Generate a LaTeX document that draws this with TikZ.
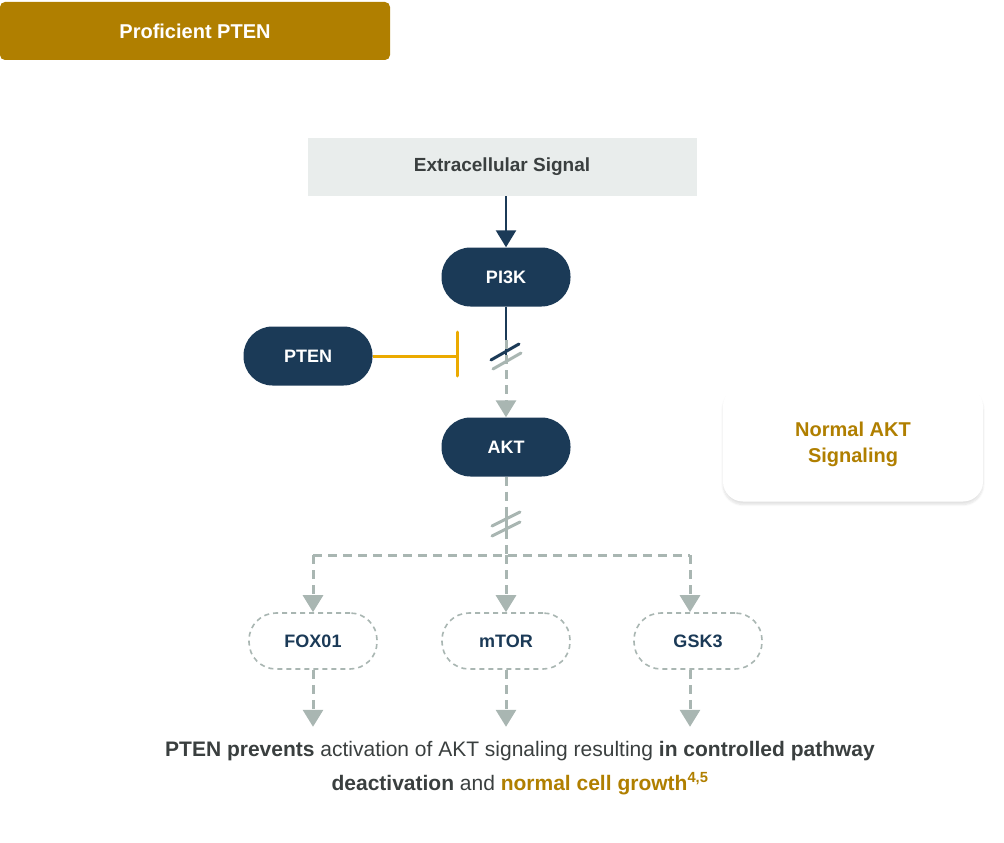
\documentclass[tikz,border=0pt]{standalone}
\usepackage{fontspec}
\setmainfont{Liberation Sans}
\usepackage{xcolor}
\usetikzlibrary{positioning, arrows.meta, shadows.blur}
\definecolor{navy}{HTML}{1B3A57}
\definecolor{gold}{HTML}{B07F00}
\definecolor{greyline}{HTML}{A9B6B2}
\definecolor{signalbg}{HTML}{E9EDEC}
\definecolor{darktext}{HTML}{3A3F3F}
\definecolor{inhib}{HTML}{EBAA00}
\begin{document}
\begin{tikzpicture}[x=1pt, y=-1pt]

				% Styles
				\tikzset{
					pill/.style={
						rectangle, rounded corners=29pt, fill=navy, text=white,
						minimum width=129pt, minimum height=59pt,
						font=\fontsize{18}{20}\selectfont\bfseries
					},
					target/.style={
						rectangle, rounded corners=27pt, draw=greyline, dashed, line width=1.6pt,
						dash pattern=on 5pt off 4pt, fill=white, text=navy,
						minimum width=128pt, minimum height=56pt,
						font=\fontsize{18}{20}\selectfont\bfseries
					},
					signalbox/.style={
						rectangle, fill=signalbg, text=darktext,
						minimum width=389pt, minimum height=58pt,
						font=\fontsize{19}{22}\selectfont\bfseries
					},
					arrowsolid/.style={line width=2.5pt, navy, -{Triangle[width=20pt, length=17pt]}},
					arrowdash/.style={line width=3pt, greyline, dash pattern=on 9pt off 6pt,
						-{Triangle[width=20pt, length=17pt]}},
					linedash/.style={line width=3pt, greyline, dash pattern=on 9pt off 6pt}
				}

				\useasboundingbox (0,0) rectangle (1004,843);

				% Title tab
				\node (tab) [fill=gold, text=white, rounded corners=5pt, minimum width=390pt,
					minimum height=58pt, font=\fontsize{20}{22}\selectfont\bfseries] at (195,31) {Proficient PTEN};

				% Main chain
				\node (signal) [signalbox] at (502,167) {Extracellular Signal};
				\node (pi3k) [pill] at (506,277) {PI3K};
				\node (pten) [pill] at (308,356) {PTEN};
				\node (akt) [pill] at (506,447) {AKT};

				% Card
				\node (card) [fill=white, rounded corners=20pt, minimum width=260pt, minimum height=115pt,
					blur shadow={shadow blur steps=8, shadow xshift=0pt, shadow yshift=-3pt, shadow opacity=12},
					text=gold, align=center, font=\fontsize{20}{26}\selectfont\bfseries] at (853,444)
					{Normal AKT\\Signaling};

				% Targets
				\node (fox) [target] at (313,641) {FOX01};
				\node (mtor) [target] at (506,641) {mTOR};
				\node (gsk) [target] at (698,641) {GSK3};

				% Break points
				\coordinate (brk1) at (506,352);
				\coordinate (brk2) at (506,523);
				\coordinate (split) at (506,555);
				\coordinate (splitl) at (313,555);
				\coordinate (splitr) at (690,555);

				% Signal to PI3K
				\draw[arrowsolid] (signal.south -| pi3k) -- (pi3k.north);

				% PI3K to AKT, broken
				\draw[line width=2.5pt, navy] (pi3k.south) -- ([yshift=-4pt]brk1);
				\draw[line width=3pt, navy, line cap=round] ([shift={(-15,8)}]brk1) -- ([shift={(13,-8)}]brk1);
				\draw[line width=3pt, greyline, line cap=round] ([shift={(-13,17)}]brk1) -- ([shift={(15,1)}]brk1);
				\draw[arrowdash] ([yshift=12pt]brk1) -- (akt.north);

				% PTEN inhibits
				\draw[line width=3pt, inhib] (pten.east) -- ++(85,0) coordinate (bar);
				\draw[line width=3pt, inhib, line cap=round] ([yshift=-20pt]bar) -- ([yshift=24pt]bar);

				% AKT to targets, broken
				\draw[linedash] (akt.south) -- ([yshift=-6pt]brk2);
				\draw[line width=3pt, greyline, line cap=round] ([shift={(-14,3)}]brk2) -- ([shift={(14,-11)}]brk2);
				\draw[line width=3pt, greyline, line cap=round] ([shift={(-14,13)}]brk2) -- ([shift={(14,-1)}]brk2);
				\draw[linedash] ([yshift=8pt]brk2) -- (split);
				\draw[linedash] (splitl) -- (splitr);
				\draw[arrowdash] (splitl) -- (fox.north);
				\draw[arrowdash] (split) -- (mtor.north);
				\draw[arrowdash] (splitr) -- ([xshift=-8pt]gsk.north);

				% Downstream arrows
				\draw[arrowdash] (fox.south) -- ++(0,57) coordinate (outl);
				\draw[arrowdash] (mtor.south) -- ++(0,57) coordinate (outm);
				\draw[arrowdash] ([xshift=-8pt]gsk.south) -- ++(0,57) coordinate (outr);

				% Caption
				\node (caption) [text=darktext, align=center, font=\fontsize{21}{34}\selectfont] at (520,768)
					{\textbf{PTEN prevents} activation of AKT signaling resulting \textbf{in controlled pathway}\\
					\textbf{deactivation} and \textcolor{gold}{\textbf{normal cell growth}\textsuperscript{\textbf{4,5}}}};

\end{tikzpicture}
\end{document}
